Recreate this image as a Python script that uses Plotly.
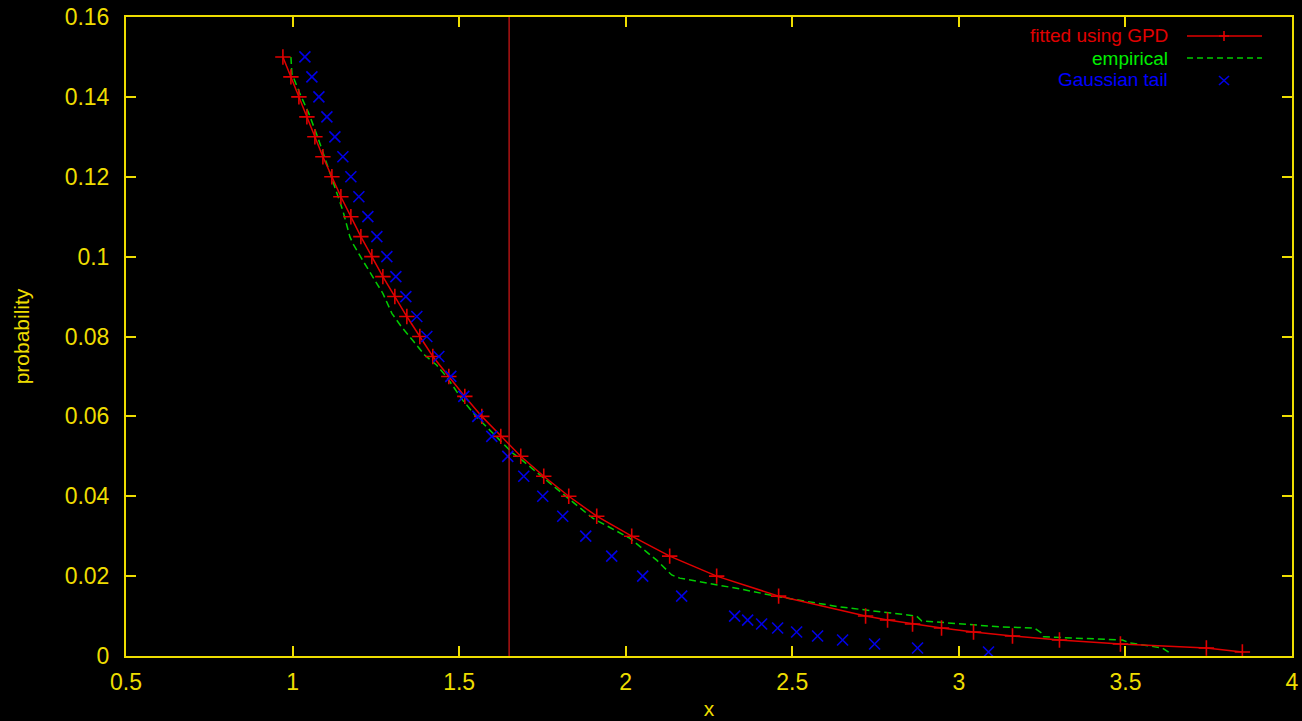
import plotly.graph_objects as go

# ---- data ----
tail_prob = [0.15, 0.145, 0.14, 0.135, 0.13, 0.125, 0.12, 0.115, 0.11, 0.105,
             0.1, 0.095, 0.09, 0.085, 0.08, 0.075, 0.07, 0.065, 0.06, 0.055,
             0.05, 0.045, 0.04, 0.035, 0.03, 0.025, 0.02, 0.015, 0.01,
             0.009, 0.008, 0.007, 0.006, 0.005, 0.004, 0.003, 0.002, 0.001]

gpd_x = [0.971, 0.995, 1.019, 1.043, 1.067, 1.091, 1.118, 1.145, 1.175, 1.205,
         1.238, 1.271, 1.307, 1.343, 1.382, 1.421, 1.469, 1.517, 1.568, 1.625,
         1.685, 1.754, 1.829, 1.913, 2.018, 2.132, 2.273, 2.459, 2.720,
         2.786, 2.861, 2.948, 3.044, 3.161, 3.302, 3.485, 3.743, 3.851]

gauss_x = [1.037, 1.058, 1.079, 1.103, 1.127, 1.151, 1.175, 1.199, 1.226, 1.253,
           1.283, 1.310, 1.340, 1.373, 1.403, 1.439, 1.475, 1.514, 1.556, 1.598,
           1.646, 1.694, 1.751, 1.811, 1.880, 1.958, 2.051, 2.168, 2.327,
           2.366, 2.408, 2.456, 2.513, 2.576, 2.651, 2.747, 2.876, 3.089]

emp_x = [0.995, 0.998, 1.022, 1.049, 1.076, 1.103, 1.127, 1.151, 1.172, 1.181,
         1.211, 1.241, 1.271, 1.298, 1.328, 1.361, 1.397, 1.433, 1.463, 1.511,
         1.553, 1.613, 1.658, 1.682, 1.742, 1.823, 1.901, 2.012, 2.093, 2.138,
         2.162, 2.342, 2.462, 2.642, 2.873, 2.888, 3.122, 3.227, 3.248, 3.254,
         3.491, 3.512, 3.611, 3.638]
emp_y = [0.150, 0.1458, 0.1408, 0.1358, 0.1298, 0.1233, 0.1173, 0.1115, 0.105, 0.1033,
         0.099, 0.0948, 0.0908, 0.0858, 0.0823, 0.079, 0.0753, 0.0728, 0.0698, 0.064,
         0.0598, 0.0548, 0.051, 0.0495, 0.0453, 0.0398, 0.0345, 0.0295, 0.024, 0.0203,
         0.0195, 0.0168, 0.0148, 0.0123, 0.0100, 0.0088, 0.0073, 0.0070, 0.0058, 0.0048,
         0.0040, 0.0033, 0.0020, 0.0005]

quantile_x = 1.65

x_ticks = [0.5, 1, 1.5, 2, 2.5, 3, 3.5, 4]
y_ticks = [0, 0.02, 0.04, 0.06, 0.08, 0.1, 0.12, 0.14, 0.16]

legend_names = ["fitted using GPD", "empirical", "Gaussian tail"]

# ---- styles ----
YEL = "#eedd00"
RED = "#e00000"
GRN = "#00cc00"
BLU = "#0000e6"
FONT = "Liberation Sans, Arial, Helvetica, sans-serif"

fig = go.Figure()

fig.add_trace(go.Scatter(
    x=emp_x, y=emp_y, mode="lines", name=legend_names[1],
    line=dict(color=GRN, width=1.5, dash="7px,4px"), showlegend=False))

fig.add_trace(go.Scatter(
    x=gpd_x, y=tail_prob, mode="lines+markers", name=legend_names[0],
    line=dict(color=RED, width=1.5),
    marker=dict(symbol="cross-thin-open", size=11, color=RED,
                line=dict(color=RED, width=1.6)),
    showlegend=False))

fig.add_trace(go.Scatter(
    x=gauss_x, y=tail_prob, mode="markers", name=legend_names[2],
    marker=dict(symbol="x-thin-open", size=11, color=BLU,
                line=dict(color=BLU, width=1.6)),
    showlegend=False))

fig.add_vline(x=quantile_x, line=dict(color="#d81818", width=1.2))

axis_common = dict(
    showline=True, linecolor=YEL, linewidth=2, mirror="ticks",
    ticks="inside", ticklen=10, tickwidth=1.5, tickcolor=YEL,
    showgrid=False, zeroline=False,
    tickfont=dict(family=FONT, size=23, color=YEL),
)

fig.update_xaxes(range=[0.5, 4], tickvals=x_ticks, ticktext=[f"{v:g}" for v in x_ticks],
                 ticklabelstandoff=4,
                 title=dict(text="x", font=dict(family=FONT, size=21, color=YEL), standoff=8),
                 **axis_common)
fig.update_yaxes(range=[0, 0.16], tickvals=y_ticks, ticktext=[f"{v:g}" for v in y_ticks],
                 ticklabelstandoff=10,
                 title=dict(text="probability", font=dict(family=FONT, size=21, color=YEL), standoff=29),
                 **axis_common)

# ---- gnuplot-style key: right-aligned text, sample to the right ----
L, R, T, B = 126, 1292, 17, 656
def px(xp):
    return (xp - L) / (R - L)
def py(yp):
    return (B - yp) / (B - T)

key_cols = [RED, "#00ee00", "#0000ff"]
rows = [36, 58, 80]
for name, col, yp in zip(legend_names, key_cols, rows):
    fig.add_annotation(xref="paper", yref="paper", x=px(1169), y=py(yp),
                       xanchor="right", yanchor="middle", showarrow=False,
                       borderpad=0, text=name,
                       font=dict(family=FONT, size=19, color=col))

shapes = []
# red line with +
shapes.append(dict(type="line", xref="paper", yref="paper", x0=px(1187), x1=px(1262),
                   y0=py(36), y1=py(36), line=dict(color=RED, width=1.5)))
shapes.append(dict(type="line", xref="paper", yref="paper", x0=px(1219), x1=px(1229),
                   y0=py(36), y1=py(36), line=dict(color=RED, width=1.6)))
shapes.append(dict(type="line", xref="paper", yref="paper", x0=px(1224), x1=px(1224),
                   y0=py(31), y1=py(41), line=dict(color=RED, width=1.6)))
# green dashed
shapes.append(dict(type="line", xref="paper", yref="paper", x0=px(1187), x1=px(1262),
                   y0=py(58), y1=py(58), line=dict(color=GRN, width=1.5, dash="6px,4px")))
# blue x
shapes.append(dict(type="line", xref="paper", yref="paper", x0=px(1219), x1=px(1229),
                   y0=py(76), y1=py(85), line=dict(color=BLU, width=1.6)))
shapes.append(dict(type="line", xref="paper", yref="paper", x0=px(1219), x1=px(1229),
                   y0=py(85), y1=py(76), line=dict(color=BLU, width=1.6)))
for s in shapes:
    fig.add_shape(**s)

fig.update_layout(
    width=1302, height=721,
    margin=dict(l=126, r=10, t=17, b=65, autoexpand=False),
    paper_bgcolor="black", plot_bgcolor="black",
    showlegend=False,
    font=dict(family=FONT, color=YEL),
)

fig.write_html("out.html")
